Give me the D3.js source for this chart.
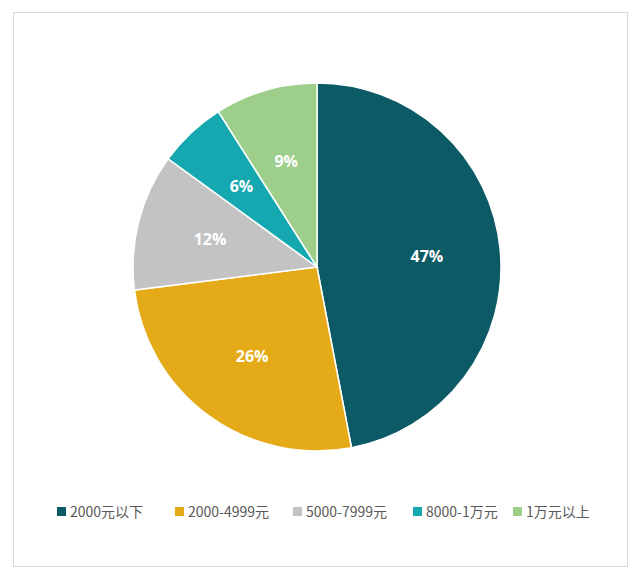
<!DOCTYPE html><html><head><meta charset="utf-8"><script src="https://d3js.org/d3.v7.min.js"></script>
<style>body{margin:0;background:#fff}</style></head><body><svg id="c" width="640" height="578"></svg><script>
const categories=["2000元以下","2000-4999元","5000-7999元","8000-1万元","1万元以上"];
const values=[47,26,12,6,9];
const colors=["#0b5a66","#e5aa17","#c3c3c3","#16a8b0","#9dcf8b"];
const svg=d3.select("#c");
svg.append("rect").attr("x",13.5).attr("y",12.5).attr("width",614).attr("height",554).attr("fill","#fff").attr("stroke","#d9d9d9");
const cx=317,cy=267,r=184;
const pie=d3.pie().sort(null)(values);
const arc=d3.arc().innerRadius(0).outerRadius(r);
const g=svg.append("g").attr("transform",`translate(${cx},${cy})`);
g.selectAll("path").data(pie).join("path").attr("d",arc).attr("fill",(d,i)=>colors[i]).attr("stroke","#fff").attr("stroke-width",1.5);
const la=d3.arc().innerRadius(r*0.6).outerRadius(r*0.6);
g.selectAll("text").data(pie).join("text").attr("transform",d=>{const c=la.centroid(d);return `translate(${c})`;})
.attr("text-anchor","middle").attr("dy","0.35em").attr("fill","#fff").attr("font-family","Open Sans, sans-serif").attr("font-weight","bold").attr("font-size",16).text(d=>d.data+"%");
const lg=svg.append("g").attr("font-family","Noto Sans CJK SC, sans-serif").attr("font-size",14).attr("fill","#595959");
const widths=[118,118,120,100,90];let x=57;
categories.forEach((c,i)=>{lg.append("rect").attr("x",x).attr("y",507).attr("width",9).attr("height",9).attr("fill",colors[i]);
lg.append("text").attr("x",x+13).attr("y",517).text(c);x+=widths[i];});
</script></body></html>
